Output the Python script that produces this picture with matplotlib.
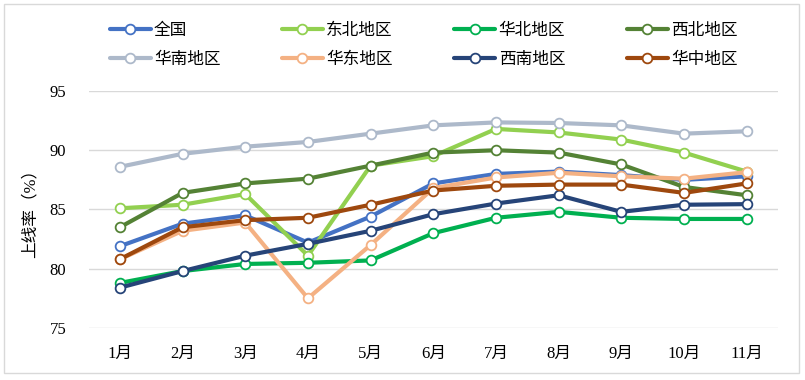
import matplotlib
matplotlib.use("Agg")
import matplotlib.pyplot as plt
from matplotlib.patches import Rectangle

plt.rcParams['font.family'] = ['Liberation Serif', 'Noto Sans CJK SC', 'DejaVu Sans']

months = ['1月', '2月', '3月', '4月', '5月', '6月', '7月', '8月', '9月', '10月', '11月']
quanguo  = [81.9, 83.8, 84.5, 82.2, 84.4, 87.2, 88.0, 88.2, 87.9, 87.5, 87.8]
dongbei  = [85.1, 85.4, 86.3, 81.1, 88.7, 89.5, 91.8, 91.5, 90.9, 89.8, 88.2]
huabei   = [78.8, 79.8, 80.4, 80.5, 80.7, 83.0, 84.3, 84.8, 84.3, 84.2, 84.2]
xibei    = [83.5, 86.4, 87.2, 87.6, 88.7, 89.8, 90.0, 89.8, 88.8, 86.9, 86.2]
huanan   = [88.6, 89.7, 90.3, 90.7, 91.4, 92.1, 92.35, 92.3, 92.1, 91.4, 91.6]
huadong  = [80.8, 83.2, 83.9, 77.5, 82.0, 86.8, 87.7, 88.1, 87.8, 87.6, 88.15]
xinan    = [78.4, 79.8, 81.1, 82.1, 83.2, 84.6, 85.5, 86.2, 84.8, 85.4, 85.45]
huazhong = [80.8, 83.5, 84.1, 84.3, 85.4, 86.6, 87.0, 87.1, 87.1, 86.4, 87.2]

series_names = ['全国', '东北地区', '华北地区', '西北地区', '华南地区', '华东地区', '西南地区', '华中地区']
series_values = [quanguo, dongbei, huabei, xibei, huanan, huadong, xinan, huazhong]
colors = ['#4472C4', '#92D050', '#00B050', '#548235', '#ADB9CA', '#F4B183', '#264478', '#9E480E']

fig = plt.figure(figsize=(8.05, 3.80), dpi=100)
ax = fig.add_axes([0.110, 0.137, 0.8565, 0.6235])

x = list(range(len(months)))
handles = []
for name, vals, c in zip(series_names, series_values, colors):
    h, = ax.plot(x, vals, color=c, lw=3, marker='o', markersize=7,
                 markerfacecolor='white', markeredgecolor=c, markeredgewidth=1.3,
                 label=name, solid_capstyle='round', zorder=3)
    handles.append(h)

ax.set_xlim(-0.5, len(months) - 0.5)
ax.set_ylim(75, 95)
ax.set_yticks([75, 80, 85, 90, 95])
ax.set_xticks(x)
ax.set_xticklabels(months)
for s in ax.spines.values():
    s.set_visible(False)
ax.yaxis.grid(True, color='#D9D9D9', lw=1)
ax.set_axisbelow(True)
ax.tick_params(axis='both', length=0, labelsize=12, colors='black')
ax.tick_params(axis='x', pad=13)
ax.tick_params(axis='y', pad=16)
ax.set_ylabel('上线率（%）', fontsize=12, labelpad=8)

order = [0, 4, 1, 5, 2, 6, 3, 7]
leg = fig.legend([handles[i] for i in order], [series_names[i] for i in order],
                 ncol=4, loc='upper left', bbox_to_anchor=(0.128, 0.958),
                 frameon=False, fontsize=12, handlelength=2.45, handletextpad=0.2,
                 columnspacing=3.7, labelspacing=0.8, borderaxespad=0)

fig.patches.append(Rectangle((4/805, 1 - 373/380), 795/805, 369/380,
                             transform=fig.transFigure, fill=False,
                             edgecolor='#D9D9D9', lw=1))

fig.savefig('out.png', dpi=100)
